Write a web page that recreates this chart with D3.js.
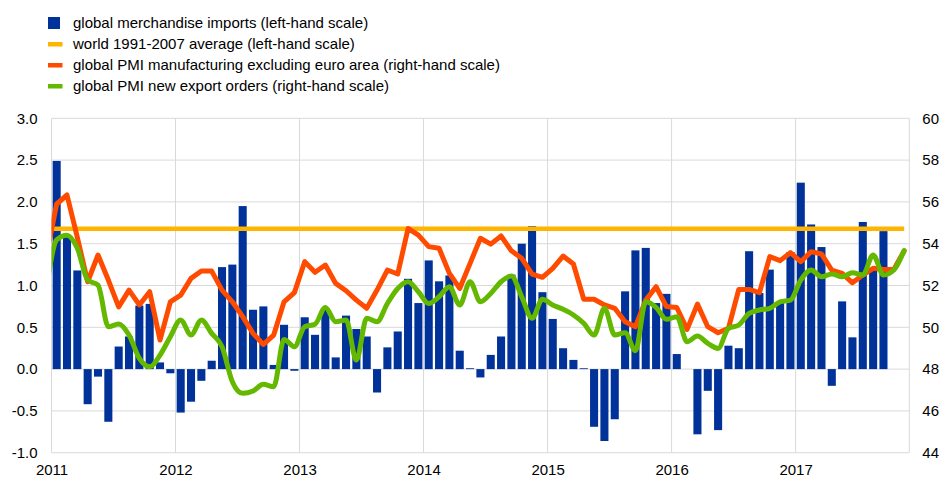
<!DOCTYPE html>
<html>
<head>
<meta charset="utf-8">
<script src="https://cdn.jsdelivr.net/npm/d3@7"></script>
<style>
  body { margin: 0; background: #fff; }
  svg text { font-family: "Liberation Sans", Arial, sans-serif; fill: #000; }
</style>
</head>
<body>
<svg id="chart" width="941" height="477"></svg>
<script>
// year labels, one every 12 months starting Jan 2011
var years = ["2011", "2012", "2013", "2014", "2015", "2016", "2017"];
var nMonths = 83; // Jan 2011 - Nov 2017

// global merchandise imports, Jan 2011 - Sep 2017 (left-hand scale)
var imports = [
  2.49, 1.60, 1.18, -0.42, -0.09, -0.63, 0.27, 0.39, 0.76, 0.78, 0.08, -0.05,
  -0.52, -0.39, -0.14, 0.10, 1.22, 1.25, 1.95, 0.71, 0.75, 0.05, 0.53, -0.02,
  0.62, 0.41, 0.73, 0.14, 0.64, 0.48, 0.39, -0.28, 0.26, 0.45, 1.08, 0.79,
  1.30, 1.05, 1.12, 0.22, 0.01, -0.10, 0.17, 0.39, 1.13, 1.50, 1.71, 0.92,
  0.60, 0.25, 0.11, 0.01, -0.69, -0.86, -0.60, 0.93, 1.42, 1.45, 0.79, 0.90,
  0.18, 0.00, -0.78, -0.26, -0.73, 0.28, 0.25, 1.41, 0.91, 1.19, 0.80, 1.40,
  2.23, 1.73, 1.46, -0.20, 0.81, 0.38, 1.76, 1.19, 1.65
];

// world 1991-2007 average (left-hand scale)
var worldAverage = 1.68;

// PMI series, Dec 2010 - Nov 2017 (right-hand scale)
var pmiManuf = [
  53.4,
  55.9, 56.33, 54.3, 52.18, 53.46, 52.26, 50.98, 51.78, 51.07, 51.70, 49.39, 51.22,
  51.54, 52.34, 52.69, 52.69, 51.78, 51.22, 50.51, 49.71, 49.18, 49.63, 51.22, 51.66,
  53.14, 52.63, 52.98, 52.10, 51.75, 51.30, 50.91, 51.78, 52.74, 52.55, 54.73, 54.41,
  53.86, 53.78, 52.58, 51.86, 53.06, 54.26, 53.98, 54.37, 53.66, 53.30, 52.55, 52.39,
  52.82, 53.41, 53.03, 51.34, 51.34, 51.07, 50.91, 50.27, 50.03, 51.30, 51.94, 50.99,
  50.95, 49.90, 51.11, 50.03, 49.74, 49.95, 51.81, 51.81, 51.66, 53.38, 53.19, 53.57,
  53.14, 53.62, 53.51, 52.74, 52.58, 52.13, 52.50, 52.82, 52.77, 52.77, 53.65
];
var pmiExport = [
  51.8,
  54.18, 54.41, 53.78, 52.26, 52.02, 50.03, 50.16, 49.63, 48.51, 48.11, 48.67, 49.55,
  50.35, 49.63, 50.35, 49.71, 49.07, 47.40, 46.84, 46.95, 47.27, 47.16, 49.42, 49.07,
  50.03, 50.15, 50.95, 50.27, 50.35, 48.43, 50.43, 50.27, 51.14, 51.86, 52.18, 51.70,
  51.14, 51.46, 51.94, 51.07, 52.18, 51.22, 51.62, 52.18, 52.45, 51.46, 50.43, 51.34,
  51.07, 50.86, 50.59, 50.19, 49.63, 50.91, 49.63, 49.74, 48.88, 51.22, 50.95, 50.38,
  50.51, 49.31, 49.58, 49.23, 48.99, 49.95, 50.11, 50.67, 50.83, 50.91, 51.22, 51.30,
  52.26, 52.74, 52.42, 52.55, 52.42, 52.61, 52.50, 53.46, 52.50, 52.74, 53.67
];

var leftTicks = [-1, -0.5, 0, 0.5, 1, 1.5, 2, 2.5, 3];
var rightTicks = [44, 46, 48, 50, 52, 54, 56, 58, 60];

var legendLabels = [
  "global merchandise imports (left-hand scale)",
  "world 1991-2007 average (left-hand scale)",
  "global PMI manufacturing excluding euro area (right-hand scale)",
  "global PMI new export orders (right-hand scale)"
];
var colours = ["#003299", "#FFB400", "#FF4B00", "#65B800"];

var svg = d3.select("#chart"),
    margin = {top: 118.3, right: 31.7, bottom: 24.3, left: 51.5},
    width = +svg.attr("width") - margin.left - margin.right,
    height = +svg.attr("height") - margin.top - margin.bottom;

var x = d3.scaleBand().domain(d3.range(nMonths)).range([0, width])
    .paddingInner(0.22).paddingOuter(0.11);
var xm = d3.scaleLinear().domain([0, nMonths]).range([0, width]);
var yL = d3.scaleLinear().domain([-1, 3]).range([height, 0]);
var yR = d3.scaleLinear().domain([44, 60]).range([height, 0]);

var g = svg.append("g")
    .attr("transform", "translate(" + margin.left + "," + margin.top + ")");

g.append("clipPath").attr("id", "plotclip")
  .append("rect").attr("width", width).attr("height", height);

// grid
g.append("g").selectAll("line")
    .data(leftTicks)
  .enter().append("line")
    .attr("x1", 0).attr("x2", width)
    .attr("y1", function(d) { return yL(d); })
    .attr("y2", function(d) { return yL(d); })
    .attr("stroke", "#d9d9d9").attr("stroke-width", 1);

g.append("g").selectAll("line")
    .data(d3.range(years.length + 1))
  .enter().append("line")
    .attr("x1", function(d) { return d < years.length ? xm(d * 12) : width; })
    .attr("x2", function(d) { return d < years.length ? xm(d * 12) : width; })
    .attr("y1", 0).attr("y2", height)
    .attr("stroke", "#d9d9d9").attr("stroke-width", 1);

// axes
g.append("g")
    .call(d3.axisLeft(yL).tickValues(leftTicks).tickSize(0).tickPadding(14)
      .tickFormat(function(d) { return d.toFixed(1); }))
    .call(function(a) { a.select(".domain").remove(); })
    .selectAll("text").style("font-size", "15px").style("font-family", null);

g.append("g")
    .attr("transform", "translate(" + width + ",0)")
    .call(d3.axisRight(yR).tickValues(rightTicks).tickSize(0).tickPadding(13))
    .call(function(a) { a.select(".domain").remove(); })
    .selectAll("text").style("font-size", "15px").style("font-family", null);

g.append("g")
    .attr("transform", "translate(0," + height + ")")
    .call(d3.axisBottom(xm).tickValues(d3.range(years.length).map(function(i) { return i * 12; }))
      .tickSize(0).tickPadding(12)
      .tickFormat(function(d) { return years[d / 12]; }))
    .call(function(a) { a.select(".domain").remove(); })
    .selectAll("text").style("font-size", "15px").style("font-family", null);

// bars
g.selectAll(".bar")
    .data(imports)
  .enter().append("rect")
    .attr("class", "bar")
    .attr("x", function(d, i) { return x(i); })
    .attr("y", function(d) { return yL(Math.max(0, d)); })
    .attr("width", x.bandwidth())
    .attr("height", function(d) { return Math.abs(yL(d) - yL(0)); })
    .attr("fill", colours[0]);

// lines: points at month centres, first point is Dec 2010 (clipped)
var px = function(d, i) { return xm(i - 0.5); };

var lines = g.append("g").attr("clip-path", "url(#plotclip)");

lines.append("path")
    .datum(pmiManuf)
    .attr("fill", "none")
    .attr("stroke", colours[1])
    .attr("stroke-width", 4.5)
    .attr("d", d3.line().x(px).y(function() { return yL(worldAverage); }));

lines.append("path")
    .datum(pmiManuf)
    .attr("fill", "none")
    .attr("stroke", colours[2])
    .attr("stroke-width", 5)
    .attr("stroke-linejoin", "round")
    .attr("stroke-linecap", "round")
    .attr("d", d3.line().x(px).y(function(d) { return yR(d); }));

lines.append("path")
    .datum(pmiExport)
    .attr("fill", "none")
    .attr("stroke", colours[3])
    .attr("stroke-width", 5)
    .attr("stroke-linejoin", "round")
    .attr("stroke-linecap", "round")
    .attr("d", d3.line().curve(d3.curveMonotoneX).x(px).y(function(d) { return yR(d); }));

// legend
var legend = svg.append("g")
    .selectAll("g")
    .data(legendLabels)
  .enter().append("g")
    .attr("transform", function(d, i) { return "translate(48," + (23 + i * 21) + ")"; });

legend.append("rect")
    .attr("x", 0)
    .attr("y", function(d, i) { return i == 0 ? -6 : -2; })
    .attr("width", function(d, i) { return i == 0 ? 12 : 14.5; })
    .attr("height", function(d, i) { return i == 0 ? 12 : 4.5; })
    .attr("fill", function(d, i) { return colours[i]; });

legend.append("text")
    .attr("x", 25)
    .attr("dy", "0.35em")
    .style("font-size", "15px")
    .text(function(d) { return d; });
</script>
</body>
</html>
